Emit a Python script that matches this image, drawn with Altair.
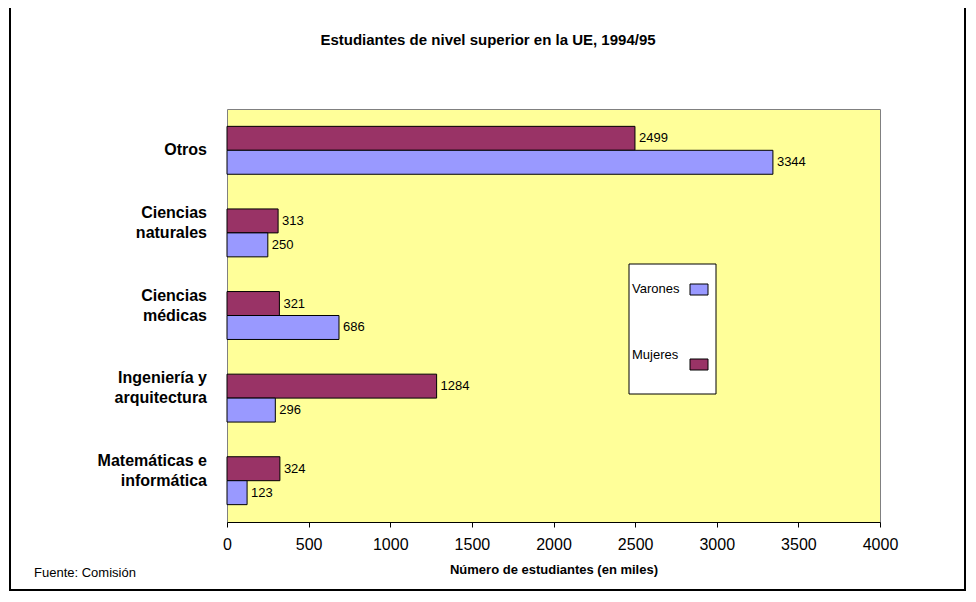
import altair as alt
import pandas as pd

# ---- data -------------------------------------------------------------
categorias = ["Otros", "Ciencias naturales", "Ciencias médicas",
              "Ingeniería y arquitectura", "Matemáticas e informática"]
mujeres = [2499, 313, 321, 1284, 324]
varones = [3344, 250, 686, 296, 123]
series = ["Mujeres", "Varones"]
colores = ["#993366", "#9999FF"]
x_ticks = [0, 500, 1000, 1500, 2000, 2500, 3000, 3500, 4000]

TITULO = "Estudiantes de nivel superior en la UE, 1994/95"
X_TITULO = "Número de estudiantes (en miles)"
FUENTE = "Fuente: Comisión"
leyenda = ["Varones", "Mujeres"]

rows = []
for c, m, v in zip(categorias, mujeres, varones):
    rows.append({"cat": c, "sexo": "Mujeres", "valor": m})
    rows.append({"cat": c, "sexo": "Varones", "valor": v})
df = pd.DataFrame(rows)

FONT = "Arial, Liberation Sans, sans-serif"
W, H = 653, 413

y_enc = alt.Y(
    "cat:N", sort=categorias,
    scale=alt.Scale(paddingInner=0.42, paddingOuter=0.21),
    axis=alt.Axis(title=None, ticks=False, domain=False, labels=False),
)
x_enc = alt.X(
    "valor:Q",
    scale=alt.Scale(domain=[0, 4000], nice=False),
    axis=alt.Axis(
        values=x_ticks, title=X_TITULO, grid=False, format="d",
        labelFlush=False,
        domainColor="black", tickColor="black", tickSize=5,
        labelFont=FONT, labelFontSize=16, labelColor="black", labelPadding=9,
        titleFont=FONT, titleFontSize=13, titleFontWeight="bold",
        titleColor="black", titlePadding=11,
    ),
)
yoff = alt.YOffset("sexo:N", sort=series,
                   scale=alt.Scale(paddingInner=0, paddingOuter=0))
color = alt.Color("sexo:N", scale=alt.Scale(domain=series, range=colores),
                  legend=None)

base = alt.Chart(df)
bars = base.mark_bar(stroke="black", strokeWidth=1).encode(
    y=y_enc, x=x_enc, yOffset=yoff, color=color)
labels = base.mark_text(align="left", baseline="middle", dx=4, font=FONT,
                        fontSize=13, color="black").encode(
    y=alt.Y("cat:N", sort=categorias), x="valor:Q", yOffset=yoff,
    text=alt.Text("valor:Q", format="d"))

# ---- category labels (split at the last space, last line on band centre) --
cat_base = alt.Chart(pd.DataFrame({"cat": categorias})).transform_calculate(
    p="lastindexof(datum.cat, ' ')",
).transform_calculate(
    l1="datum.p > 0 ? slice(datum.cat, 0, datum.p) : ''",
    l2="datum.p > 0 ? slice(datum.cat, datum.p + 1) : datum.cat",
)
cat_l2 = cat_base.mark_text(align="right", baseline="middle", font=FONT,
                            fontSize=16, fontWeight="bold", color="black",
                            dy=0).encode(
    y=alt.Y("cat:N", sort=categorias), x=alt.value(-20), text="l2:N")
cat_l1 = cat_base.mark_text(align="right", baseline="middle", font=FONT,
                            fontSize=16, fontWeight="bold", color="black",
                            dy=-20).encode(
    y=alt.Y("cat:N", sort=categorias), x=alt.value(-20), text="l1:N")

# ---- decorations: outer frame, title, source --------------------------
one = alt.Chart(pd.DataFrame({"t": [TITULO]}))
frame = one.mark_rect(fill="transparent", stroke="black", strokeWidth=2).encode(
    x=alt.value(-217), x2=alt.value(738), y=alt.value(-103), y2=alt.value(481))
title = one.mark_text(font=FONT, fontSize=15, fontWeight="bold", color="black",
                      baseline="middle", align="center").encode(
    text="t:N", x=alt.value(261), y=alt.value(-69))
src = alt.Chart(pd.DataFrame({"t": [FUENTE]})).mark_text(
    font=FONT, fontSize=13, color="black", baseline="middle", align="left").encode(
    text="t:N", x=alt.value(-193), y=alt.value(464))

# ---- custom legend ------------------------------------------------------
leg_df = pd.DataFrame({"sexo": leyenda})
leg_box = one.mark_rect(fill="white", stroke="black", strokeWidth=1).encode(
    x=alt.value(402), x2=alt.value(489), y=alt.value(155), y2=alt.value(285))
leg_layers = []
for name, ty in zip(leyenda, [180, 246]):
    src_l = alt.Chart(leg_df).transform_filter(alt.datum.sexo == name)
    leg_layers.append(src_l.mark_text(font=FONT, fontSize=13, color="black",
                                      align="left", baseline="middle").encode(
        text="sexo:N", x=alt.value(405), y=alt.value(ty)))
    sy = ty - 5 if name == "Varones" else ty + 4
    leg_layers.append(src_l.mark_rect(stroke="black", strokeWidth=1).encode(
        color=color, x=alt.value(463), x2=alt.value(481),
        y=alt.value(sy), y2=alt.value(sy + 11)))

chart = alt.layer(bars, labels, cat_l1, cat_l2, leg_box, *leg_layers,
                  frame, title, src).properties(
    width=W, height=H,
    autosize=alt.AutoSizeParams(type="none"),
    padding={"left": 219, "top": 101, "right": 88, "bottom": 70},
    background="white",
).configure_view(fill="#FFFF99", stroke="#808080", strokeWidth=1)

chart.save("out.html", embed_options={"renderer": "svg", "actions": False})
